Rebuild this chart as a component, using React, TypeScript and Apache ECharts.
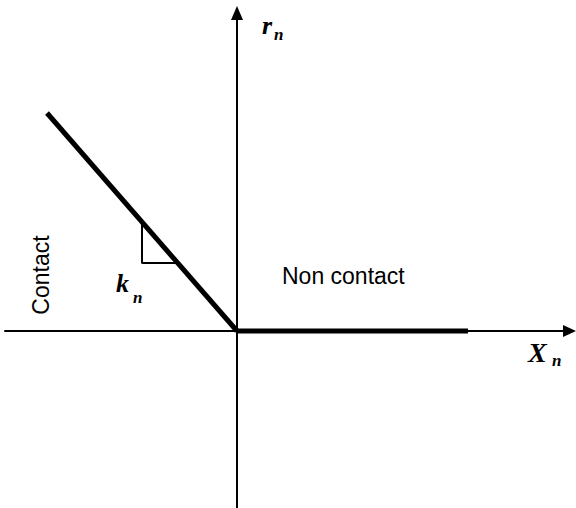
import React, { useEffect, useRef } from "react";
import * as echarts from "echarts";

// Piecewise-linear contact law (data units, origin at axes crossing)
const contactBranchX = [-190, 0];
const contactBranchY = [218, 0];
const nonContactBranchX = [0, 231];
const nonContactBranchY = [0, 0];
// Slope indicator triangle (k_n)
const slopeTriX = [-95, -95, -59];
const slopeTriY = [109, 68, 68];
// Axis ranges
const xRange = [-232, 332.5];
const yRange = [-177, 318];

const serif = "'Liberation Serif', 'Times New Roman', serif";
const sans = "'Liberation Sans', Arial, sans-serif";

export default function App() {
  const ref = useRef<HTMLDivElement>(null);
  useEffect(() => {
    if (!ref.current) return;
    const chart = echarts.init(ref.current, undefined, { renderer: "svg" });
    const pairs = (xs: number[], ys: number[]) => xs.map((x, i) => [x, ys[i]]);
    const italic = (text: string, x: number, y: number, size: number) => ({
      type: "text",
      x,
      y,
      style: {
        text,
        font: `italic bold ${size}px ${serif}`,
        fill: "#000",
        textAlign: "left",
        textVerticalAlign: "middle",
      },
    });
    chart.setOption({
      animation: false,
      backgroundColor: "#fff",
      grid: { left: 5, right: 6.5, top: 13, bottom: 0 },
      xAxis: {
        type: "value",
        min: xRange[0],
        max: xRange[1],
        axisLine: {
          show: true,
          onZero: true,
          lineStyle: { color: "#000", width: 2 },
          symbol: ["none", "triangle"],
          symbolSize: [12, 13],
        },
        axisTick: { show: false },
        axisLabel: { show: false },
        splitLine: { show: false },
      },
      yAxis: {
        type: "value",
        min: yRange[0],
        max: yRange[1],
        axisLine: {
          show: true,
          onZero: true,
          lineStyle: { color: "#000", width: 2 },
          symbol: ["none", "triangle"],
          symbolSize: [12, 14],
        },
        axisTick: { show: false },
        axisLabel: { show: false },
        splitLine: { show: false },
      },
      series: [
        {
          type: "line",
          data: pairs(slopeTriX, slopeTriY),
          symbol: "none",
          lineStyle: { color: "#000", width: 2 },
          z: 2,
        },
        {
          type: "line",
          data: pairs(contactBranchX, contactBranchY),
          symbol: "none",
          lineStyle: { color: "#000", width: 5, cap: "butt" },
          z: 3,
        },
        {
          type: "line",
          data: pairs(nonContactBranchX, nonContactBranchY),
          symbol: "none",
          lineStyle: { color: "#000", width: 5, cap: "butt" },
          z: 3,
        },
      ],
      graphic: [
        italic("r", 262, 25, 26),
        italic("n", 274, 34, 17),
        italic("X", 528, 352, 28),
        italic("n", 552, 360, 17),
        italic("k", 116, 283, 26),
        italic("n", 133, 297, 17),
        {
          type: "text",
          x: 282,
          y: 276,
          style: {
            text: "Non contact",
            font: `23px ${sans}`,
            fill: "#000",
            textAlign: "left",
            textVerticalAlign: "middle",
          },
        },
        {
          type: "text",
          x: 41,
          y: 275,
          rotation: Math.PI / 2,
          style: {
            text: "Contact",
            font: `23px ${sans}`,
            fill: "#000",
            textAlign: "center",
            textVerticalAlign: "middle",
          },
        },
      ],
    });
    return () => chart.dispose();
  }, []);
  return (
    <div
      ref={ref}
      style={{ position: "absolute", left: 0, top: 0, width: 576, height: 508, background: "#fff" }}
    />
  );
}
